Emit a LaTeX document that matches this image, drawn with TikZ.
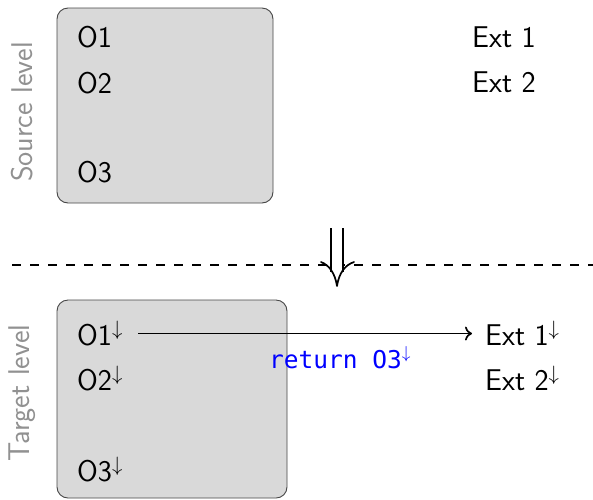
\documentclass[tikz,border=0pt]{standalone}
\usepackage{fontspec}
\newfontfamily\codefont{DejaVu Sans Mono}
\usetikzlibrary{arrows.meta}
\definecolor{boxfill}{RGB}{217,217,217}
\definecolor{boxline}{RGB}{70,70,70}
\definecolor{levelgray}{RGB}{145,145,145}
\tikzset{
  levelbox/.style={draw=boxline, fill=boxfill, line width=0.9pt, rounded corners=11pt},
  item/.style={anchor=base west, inner sep=0pt, font=\sffamily\fontsize{30}{36}\selectfont},
  levellabel/.style={rotate=90, inner sep=0pt, text=levelgray, font=\sffamily\fontsize{30}{36}\selectfont},
  code/.style={anchor=base west, inner sep=0pt, text=blue, font=\codefont\fontsize{24.5}{29}\selectfont},
  call/.style={-{To[length=7pt,width=14pt]}, line width=1.7pt, shorten <=15pt, shorten >=13pt},
  refine/.style={line width=1.7pt, line cap=round, line join=round},
}
\begin{document}
\begin{tikzpicture}[x=1pt, y=-1pt]
  \useasboundingbox (0,0) rectangle (593,499);
  \clip (0,0) rectangle (593,499);

  % source level
  \draw[levelbox] (57,8) rectangle (273,203);
  \node[levellabel] (srclbl) at (22,112) {Source level};
  \node[item] (o1) at (77,47) {O1};
  \node[item] (o2) at (77,93) {O2};
  \node[item] (o3) at (77,182) {O3};
  \node[item] (e1) at (472,47) {Ext 1};
  \node[item] (e2) at (472,92) {Ext 2};

  % separator and refinement arrow
  \coordinate (sepL) at (12,265);
  \coordinate (sepR) at (600,265);
  \draw[line width=1.5pt, dash pattern=on 9pt off 9pt] (sepL) -- (sepR);
  \coordinate (refTop) at (337,228);
  \coordinate (refEnd) at (337,272);
  \coordinate (refTip) at (337,286);
  \coordinate (wingL) at (321,262);
  \coordinate (wingR) at (354,262);
  \draw[line width=1.7pt, double, double distance=10pt] (refTop) -- (refEnd);
  \draw[refine] (wingL) .. controls (329,265) and (335,273) .. (refTip)
                        .. controls (339,273) and (345,265) .. (wingR);

  % target level
  \draw[levelbox] (57,300) rectangle (287,498);
  \node[levellabel] (tgtlbl) at (22,393) {Target level};
  \node[item] (o1t) at (77,345) {O1$^\downarrow$};
  \node[item] (o2t) at (77,390) {O2$^\downarrow$};
  \node[item] (o3t) at (77,481) {O3$^\downarrow$};
  \node[item] (e1t) at (485,345) {Ext 1$^\downarrow$};
  \node[item] (e2t) at (485,390) {Ext 2$^\downarrow$};
  \draw[call] (o1t.east) -- (e1t.west |- o1t.east);
  \node[code] (ret) at (269,368) {return O3$^\downarrow$};
\end{tikzpicture}
\end{document}
